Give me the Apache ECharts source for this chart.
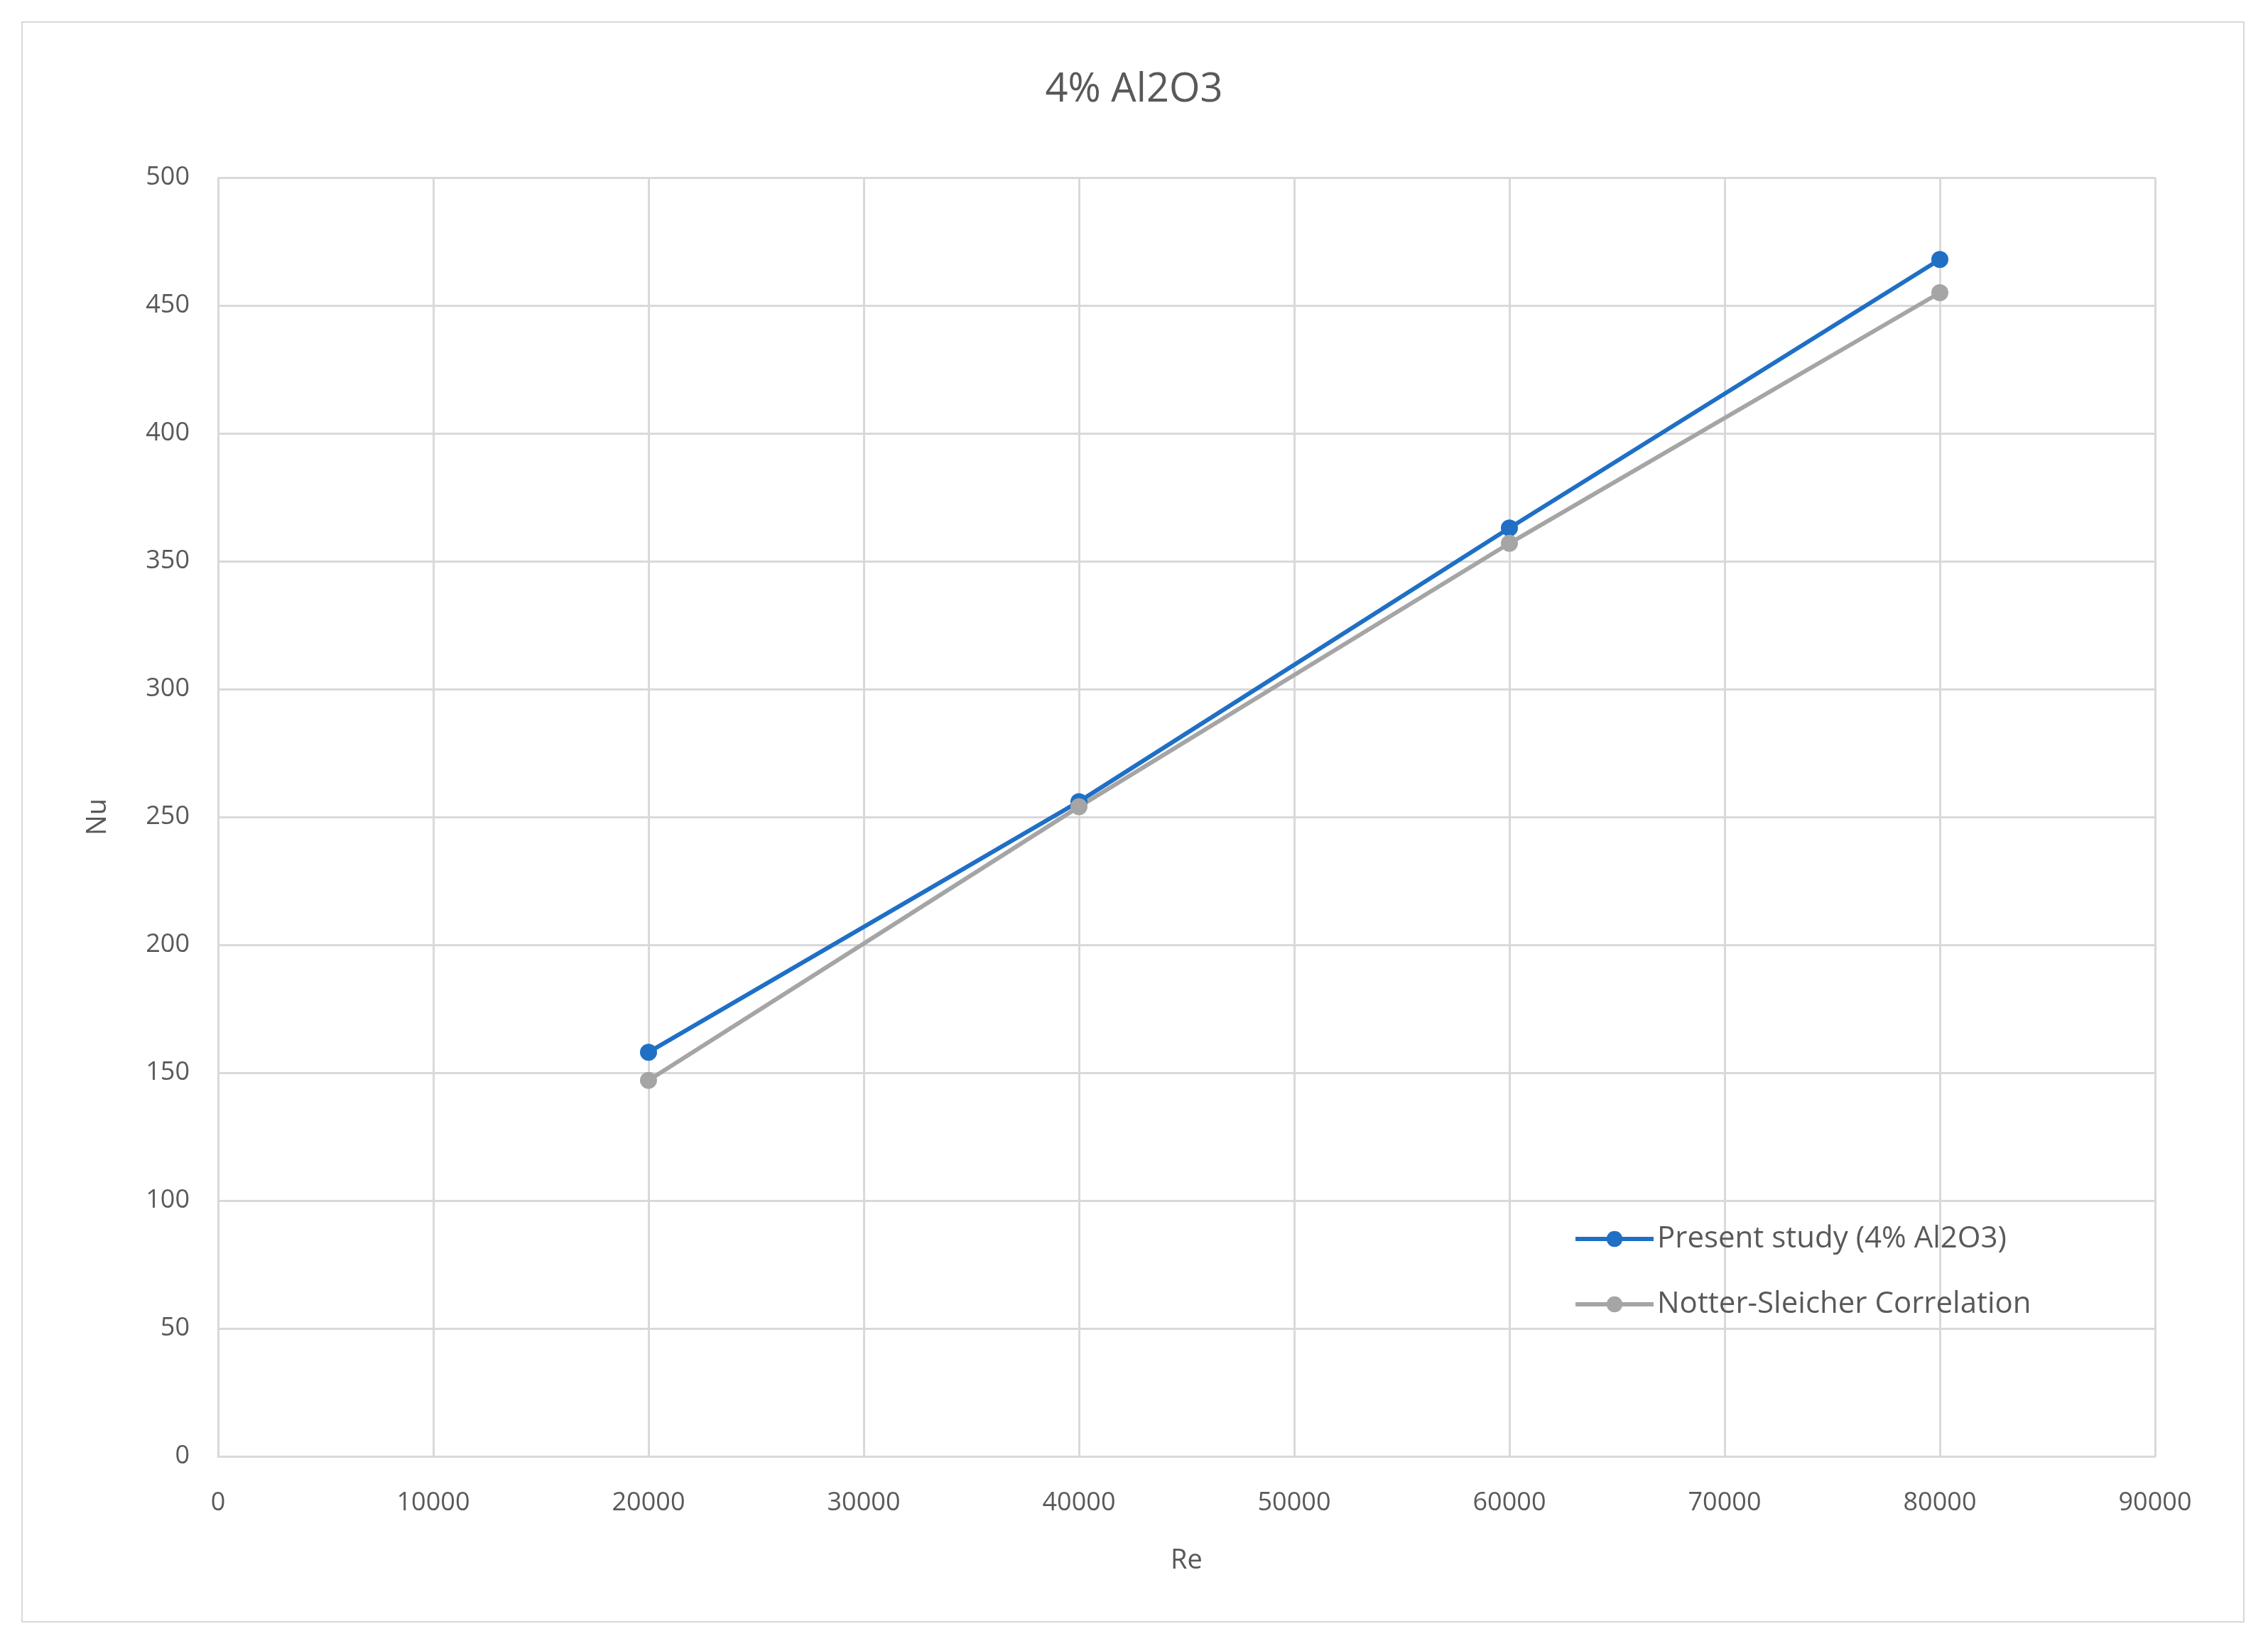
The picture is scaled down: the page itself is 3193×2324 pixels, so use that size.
<!DOCTYPE html>
<html><head><meta charset="utf-8">
<script src="https://cdn.jsdelivr.net/npm/echarts@6/dist/echarts.min.js"></script>
<style>html,body{margin:0;padding:0;background:#fff}
#frame{position:absolute;left:30px;top:30px;width:3130px;height:2254px;border:2px solid #d9d9d9;box-sizing:border-box}
#c{position:absolute;left:0;top:0;width:3193px;height:2324px}</style>
</head><body><div id="frame"></div><div id="c"></div>
<script>
const reValues=[20000,40000,60000,80000];
const presentStudy=[158,256,363,468];
const notterSleicher=[147,254,357,455];
const seriesNames=['Present study (4% Al2O3)','Notter-Sleicher Correlation'];
const chart=echarts.init(document.getElementById('c'));
const font='"Open Sans", "Liberation Sans", sans-serif';
function pts(v){return reValues.map((x,i)=>[x,v[i]]);}
chart.setOption({
  animation:false,
  title:{text:'4% Al2O3',left:'center',top:94,textStyle:{fontFamily:font,fontSize:56,fontWeight:'normal',color:'#595959'}},
  grid:{left:307,right:159,top:250,bottom:274},
  xAxis:{type:'value',min:0,max:90000,interval:10000,name:'Re',nameLocation:'middle',nameGap:128,
    nameTextStyle:{fontFamily:font,fontSize:38,color:'#595959'},
    axisLine:{show:true,lineStyle:{color:'#d9d9d9',width:3}},axisTick:{show:false},
    axisLabel:{fontFamily:font,fontSize:36,color:'#595959',margin:48,formatter:v=>String(v)},
    splitLine:{lineStyle:{color:'#d9d9d9',width:3}}},
  yAxis:{type:'value',min:0,max:500,interval:50,name:'Nu',nameLocation:'middle',nameGap:150,
    nameTextStyle:{fontFamily:font,fontSize:38,color:'#595959'},
    axisLine:{show:false},axisTick:{show:false},
    axisLabel:{fontFamily:font,fontSize:36,color:'#595959',margin:40},
    splitLine:{lineStyle:{color:'#d9d9d9',width:3}}},
  legend:{orient:'vertical',left:2210,top:1718,itemGap:50,itemWidth:110,itemHeight:28,
    textStyle:{fontFamily:font,fontSize:42,color:'#595959'},
    lineStyle:{width:6},data:seriesNames},
  series:[
    {name:seriesNames[0],type:'line',data:pts(presentStudy),symbol:'circle',symbolSize:24,
     lineStyle:{color:'#1f6fc5',width:6},itemStyle:{color:'#1f6fc5'}},
    {name:seriesNames[1],type:'line',data:pts(notterSleicher),symbol:'circle',symbolSize:24,
     lineStyle:{color:'#a5a5a5',width:6},itemStyle:{color:'#a5a5a5'}}
  ]
});
</script></body></html>
